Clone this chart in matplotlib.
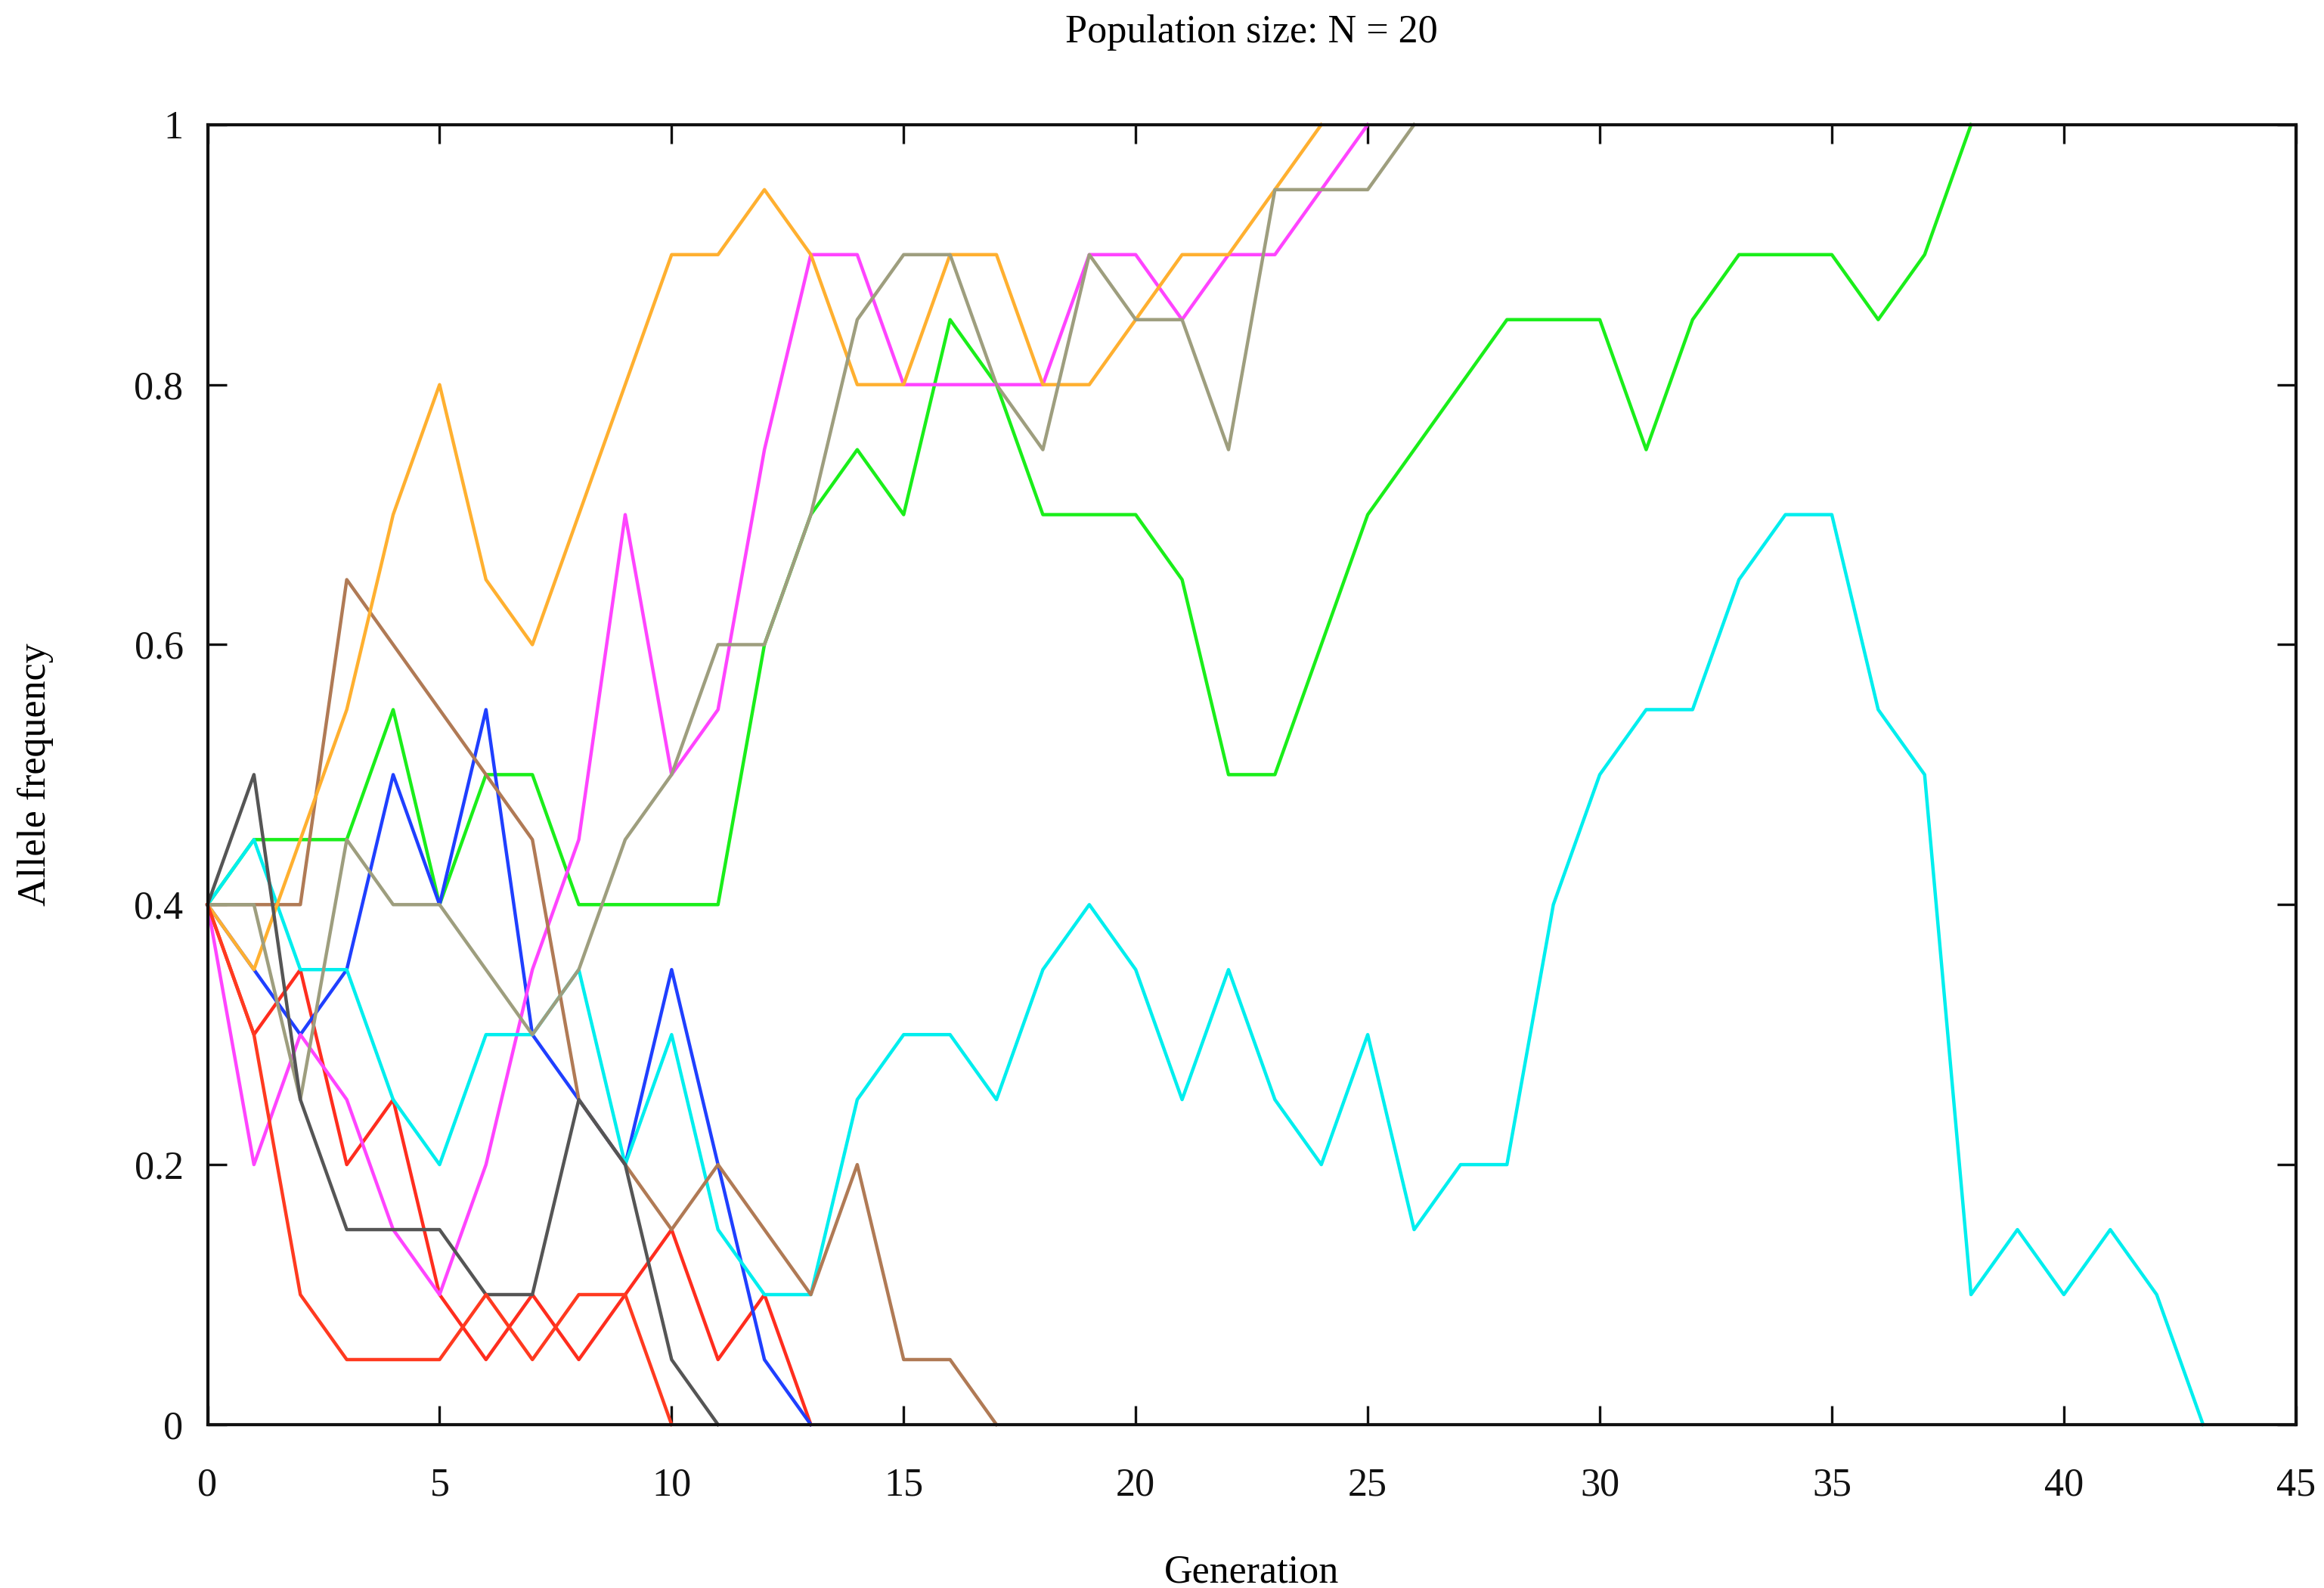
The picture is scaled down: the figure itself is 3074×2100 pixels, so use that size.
import matplotlib
matplotlib.use("Agg")
import matplotlib.pyplot as plt

plt.rcParams['font.family'] = ['Liberation Serif', 'DejaVu Serif']

# allele frequency per generation, one list per replicate run
red_a = [0.4, 0.3, 0.35, 0.2, 0.25, 0.1, 0.05, 0.1, 0.05, 0.1, 0.15, 0.05, 0.1, 0.0]
green = [0.4, 0.45, 0.45, 0.45, 0.55, 0.4, 0.5, 0.5, 0.4, 0.4, 0.4, 0.4, 0.6, 0.7,
         0.75, 0.7, 0.85, 0.8, 0.7, 0.7, 0.7, 0.65, 0.5, 0.5, 0.6, 0.7, 0.75, 0.8,
         0.85, 0.85, 0.85, 0.75, 0.85, 0.9, 0.9, 0.9, 0.85, 0.9, 1.0]
blue = [0.4, 0.35, 0.3, 0.35, 0.5, 0.4, 0.55, 0.3, 0.25, 0.2, 0.35, 0.2, 0.05, 0.0]
magenta = [0.4, 0.2, 0.3, 0.25, 0.15, 0.1, 0.2, 0.35, 0.45, 0.7, 0.5, 0.55, 0.75,
           0.9, 0.9, 0.8, 0.8, 0.8, 0.8, 0.9, 0.9, 0.85, 0.9, 0.9, 0.95, 1.0]
cyan = [0.4, 0.45, 0.35, 0.35, 0.25, 0.2, 0.3, 0.3, 0.35, 0.2, 0.3, 0.15, 0.1, 0.1,
        0.25, 0.3, 0.3, 0.25, 0.35, 0.4, 0.35, 0.25, 0.35, 0.25, 0.2, 0.3, 0.15,
        0.2, 0.2, 0.4, 0.5, 0.55, 0.55, 0.65, 0.7, 0.7, 0.55, 0.5, 0.1, 0.15, 0.1,
        0.15, 0.1, 0.0]
brown = [0.4, 0.4, 0.4, 0.65, 0.6, 0.55, 0.5, 0.45, 0.25, 0.2, 0.15, 0.2, 0.15,
         0.1, 0.2, 0.05, 0.05, 0.0]
orange = [0.4, 0.35, 0.45, 0.55, 0.7, 0.8, 0.65, 0.6, 0.7, 0.8, 0.9, 0.9, 0.95,
          0.9, 0.8, 0.8, 0.9, 0.9, 0.8, 0.8, 0.85, 0.9, 0.9, 0.95, 1.0]
olive = [0.4, 0.4, 0.25, 0.45, 0.4, 0.4, 0.35, 0.3, 0.35, 0.45, 0.5, 0.6, 0.6, 0.7,
         0.85, 0.9, 0.9, 0.8, 0.75, 0.9, 0.85, 0.85, 0.75, 0.95, 0.95, 0.95, 1.0]
gray = [0.4, 0.5, 0.25, 0.15, 0.15, 0.15, 0.1, 0.1, 0.25, 0.2, 0.05, 0.0]
red_b = [0.4, 0.3, 0.1, 0.05, 0.05, 0.05, 0.1, 0.05, 0.1, 0.1, 0.0]

runs = [red_a, green, blue, magenta, cyan, brown, orange, olive, gray, red_b]
colors = ['#ff2d1e', '#1aee1a', '#1f3fff', '#ff44ff', '#00eeee',
          '#b07a55', '#ffb030', '#9e9e7e', '#555555', '#ff3a20']

x_ticks = [0, 5, 10, 15, 20, 25, 30, 35, 40, 45]
y_ticks = [0, 0.2, 0.4, 0.6, 0.8, 1]
y_tick_labels = ['0', '0.2', '0.4', '0.6', '0.8', '1']

fig = plt.figure(figsize=(30.74, 21), dpi=100)
ax = fig.add_axes([0.0893, 0.1029, 0.8986, 0.8186])

for freq, c in zip(runs, colors):
    ax.plot(range(len(freq)), freq, color=c, lw=3.2, clip_on=False)

ax.set_xlim(0, 45)
ax.set_ylim(0, 1)
ax.set_xticks(x_ticks)
ax.set_yticks(y_ticks)
ax.set_yticklabels(y_tick_labels)

for s in ax.spines.values():
    s.set_linewidth(3.0)
    s.set_color('#111111')
ax.tick_params(direction='in', length=18, width=2.4, top=True, right=True,
               labelsize=37.5, colors='#111111')
ax.tick_params(axis='x', pad=41)
ax.tick_params(axis='y', pad=23)

ax.set_xlabel('Generation', fontsize=37.5)
ax.xaxis.set_label_coords(0.5, -0.114)
ax.xaxis.label.set_va('center')
ax.set_ylabel('Allele frequency', fontsize=37.5)
ax.yaxis.set_label_coords(-0.0822, 0.5)
ax.yaxis.label.set_va('center')
ax.set_title('Population size: N = 20', fontsize=37.5, y=1.066, va='center')

fig.savefig('out.png', dpi=100)
